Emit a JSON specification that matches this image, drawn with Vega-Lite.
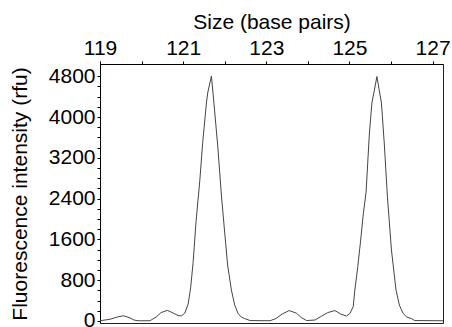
{
  "$schema": "https://vega.github.io/schema/vega-lite/v6.json",
  "width": 343,
  "height": 259,
  "autosize": "none",
  "padding": {"left": 100, "top": 64, "right": 9, "bottom": 4},
  "background": "white",
  "config": {
    "view": {"stroke": "#222", "strokeWidth": 1},
    "font": "Liberation Sans",
    "axis": {"labelFont": "Liberation Sans", "titleFont": "Liberation Sans", "labelColor": "#000", "titleColor": "#000", "domainColor": "#000", "tickColor": "#000", "grid": false, "titleFontWeight": "normal"}
  },
  "data": {"values": [
    {"size": 119.00, "rfu": 4},
    {"size": 119.24, "rfu": 33},
    {"size": 119.41, "rfu": 76},
    {"size": 119.56, "rfu": 102},
    {"size": 119.70, "rfu": 67},
    {"size": 119.82, "rfu": 18},
    {"size": 119.91, "rfu": 4},
    {"size": 120.20, "rfu": 4},
    {"size": 120.35, "rfu": 76},
    {"size": 120.47, "rfu": 165},
    {"size": 120.62, "rfu": 208},
    {"size": 120.76, "rfu": 155},
    {"size": 120.88, "rfu": 106},
    {"size": 120.96, "rfu": 100},
    {"size": 121.04, "rfu": 155},
    {"size": 121.12, "rfu": 330},
    {"size": 121.18, "rfu": 650},
    {"size": 121.24, "rfu": 1150},
    {"size": 121.31, "rfu": 1950},
    {"size": 121.40, "rfu": 2750},
    {"size": 121.47, "rfu": 3500},
    {"size": 121.56, "rfu": 4274},
    {"size": 121.59, "rfu": 4470},
    {"size": 121.68, "rfu": 4804},
    {"size": 121.74, "rfu": 4274},
    {"size": 121.83, "rfu": 3450},
    {"size": 121.92, "rfu": 2470},
    {"size": 122.00, "rfu": 1725},
    {"size": 122.07, "rfu": 1096},
    {"size": 122.16, "rfu": 606},
    {"size": 122.24, "rfu": 312},
    {"size": 122.32, "rfu": 149},
    {"size": 122.40, "rfu": 76},
    {"size": 122.48, "rfu": 47},
    {"size": 122.61, "rfu": 8},
    {"size": 123.09, "rfu": 4},
    {"size": 123.23, "rfu": 47},
    {"size": 123.38, "rfu": 135},
    {"size": 123.55, "rfu": 204},
    {"size": 123.72, "rfu": 155},
    {"size": 123.84, "rfu": 67},
    {"size": 123.97, "rfu": 8},
    {"size": 124.17, "rfu": 18},
    {"size": 124.31, "rfu": 86},
    {"size": 124.48, "rfu": 165},
    {"size": 124.65, "rfu": 204},
    {"size": 124.79, "rfu": 135},
    {"size": 124.93, "rfu": 96},
    {"size": 125.01, "rfu": 145},
    {"size": 125.09, "rfu": 279},
    {"size": 125.13, "rfu": 606},
    {"size": 125.20, "rfu": 1063},
    {"size": 125.27, "rfu": 1587},
    {"size": 125.33, "rfu": 2077},
    {"size": 125.40, "rfu": 2530},
    {"size": 125.48, "rfu": 3687},
    {"size": 125.54, "rfu": 4274},
    {"size": 125.60, "rfu": 4529},
    {"size": 125.66, "rfu": 4794},
    {"size": 125.77, "rfu": 4274},
    {"size": 125.84, "rfu": 3450},
    {"size": 125.91, "rfu": 2470},
    {"size": 126.01, "rfu": 1391},
    {"size": 126.12, "rfu": 606},
    {"size": 126.20, "rfu": 312},
    {"size": 126.29, "rfu": 149},
    {"size": 126.38, "rfu": 76},
    {"size": 126.49, "rfu": 47},
    {"size": 126.57, "rfu": 8},
    {"size": 127.25, "rfu": 4}
  ]},
  "mark": {"type": "line", "color": "#444", "strokeWidth": 1, "clip": true},
  "encoding": {
    "x": {
      "field": "size", "type": "quantitative",
      "scale": {"domain": [119, 127.25], "nice": false, "zero": false},
      "axis": {
        "orient": "top", "title": "Size (base pairs)",
        "values": [119, 120, 121, 122, 123, 124, 125, 126, 127],
        "labelExpr": "datum.value % 2 == 1 ? datum.label : ''",
        "labelFontSize": 21, "titleFontSize": 21, "tickSize": 3, "labelPadding": 3, "titlePadding": 5,
        "labelFlush": false, "labelOverlap": false
      }
    },
    "y": {
      "field": "rfu", "type": "quantitative",
      "scale": {"domain": [-40, 5040], "nice": false, "zero": false},
      "axis": {
        "title": "Fluorescence intensity (rfu)",
        "values": [0, 200, 400, 600, 800, 1000, 1200, 1400, 1600, 1800, 2000, 2200, 2400, 2600, 2800, 3000, 3200, 3400, 3600, 3800, 4000, 4200, 4400, 4600, 4800],
        "labelExpr": "datum.value % 800 == 0 ? datum.label : ''",
        "format": "d",
        "labelFontSize": 21, "titleFontSize": 21, "tickSize": 3, "labelPadding": 2, "titlePadding": 18,
        "labelFlush": false, "labelOverlap": false
      }
    }
  }
}
